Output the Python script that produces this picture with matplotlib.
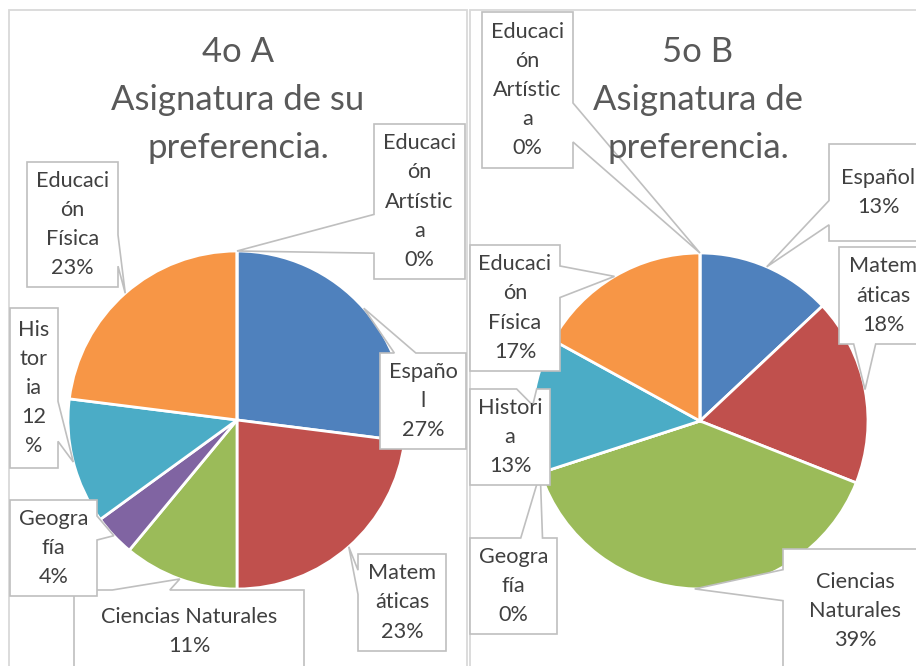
import matplotlib
matplotlib.use('Agg')
import matplotlib.pyplot as plt
from matplotlib.patches import Polygon, Rectangle
import numpy as np

plt.rcParams['font.family'] = ['Lato', 'DejaVu Sans']

# data
subjects = ['Español', 'Matemáticas', 'Ciencias Naturales', 'Geografía',
            'Historia', 'Educación Física', 'Educación Artística']
pct_4A = [27, 23, 11, 4, 12, 23, 0]
pct_5B = [13, 18, 39, 0, 13, 17, 0]
titles = ['4o A\nAsignatura de su\npreferencia.', '5o B\nAsignatura de\npreferencia.']

# label text as wrapped by Excel in each chart ({} -> percentage)
labels_4A = ['Españo\nl\n{}%', 'Matem\náticas\n{}%', 'Ciencias Naturales\n{}%',
             'Geogra\nfía\n{}%', 'His\ntor\nia\n{}\n%', 'Educaci\nón\nFísica\n{}%',
             'Educaci\nón\nArtístic\na\n{}%']
labels_5B = ['Español\n{}%', 'Matem\náticas\n{}%', 'Ciencias\nNaturales\n{}%',
             'Geogra\nfía\n{}%', 'Histori\na\n{}%', 'Educaci\nón\nFísica\n{}%',
             'Educaci\nón\nArtístic\na\n{}%']

colors = ['#4F81BD', '#C0504D', '#9BBB59', '#8064A2', '#4BACC6', '#F79646', '#2C4D75']

W, H = 916, 666

# layout in image pixels (x0, y0, x1, y1)
boxes_4A = [(380, 353, 466, 449), (358, 554, 446, 651), (74, 590, 304, 673),
            (10, 500, 97, 596), (10, 308, 58, 468), (27, 162, 118, 287),
            (374, 124, 465, 279)]
boxes_5B = [(829, 144, 927, 241), (839, 247, 927, 344), (783, 549, 927, 673),
            (470, 538, 557, 634), (470, 389, 550, 485), (470, 245, 560, 371),
            (482, 12, 573, 168)]

charts = [
    dict(vals=pct_4A, labels=labels_4A, boxes=boxes_4A, title=titles[0],
         frame=(9, 10, 467, 700), center=(237, 420), r=169, tx=238),
    dict(vals=pct_5B, labels=labels_5B, boxes=boxes_5B, title=titles[1],
         frame=(470, 10, 960, 700), center=(700, 421), r=168, tx=698),
]

fig = plt.figure(figsize=(W / 100, H / 100), dpi=100)
ax = fig.add_axes([0, 0, 1, 1])


def fy(y):
    return H - y


def callout(box, tip, text):
    x0, y0, x1, y1 = box
    w, h = x1 - x0, y1 - y0
    hc, vc = (x0 + x1) / 2, (y0 + y1) / 2
    dx, dy = tip[0] - hc, tip[1] - vc
    dq = dx * h / w
    dz = abs(dy) - abs(dq)
    g1, g2 = (7, 10) if dx > 0 else (2, 5)
    xa, xb = x0 + w * g1 / 12, x0 + w * g2 / 12
    g1, g2 = (7, 10) if dy > 0 else (2, 5)
    ya, yb = y0 + h * g1 / 12, y0 + h * g2 / 12
    if dz > 0 and dy < 0:
        pts = [(x0, y0), (xa, y0), tip, (xb, y0), (x1, y0), (x1, y1), (x0, y1)]
    elif dz > 0:
        pts = [(x0, y0), (x1, y0), (x1, y1), (xb, y1), tip, (xa, y1), (x0, y1)]
    elif dx > 0:
        pts = [(x0, y0), (x1, y0), (x1, ya), tip, (x1, yb), (x1, y1), (x0, y1)]
    else:
        pts = [(x0, y0), (x1, y0), (x1, y1), (x0, y1), (x0, yb), tip, (x0, ya)]
    pts = [(px, fy(py)) for px, py in pts]
    ax.add_patch(Polygon(pts, closed=True, facecolor='white', edgecolor='#BFBFBF',
                         linewidth=1.2, zorder=5, clip_on=False))
    ax.text(hc, fy(vc), text, ha='center', va='center', color='#404040',
            fontsize=15.6, linespacing=1.57, zorder=6)


for ch in charts:
    fx0, fy0, fx1, fy1 = ch['frame']
    ax.add_patch(Rectangle((fx0, fy(fy1)), fx1 - fx0, fy1 - fy0, facecolor='white',
                           edgecolor='#D9D9D9', linewidth=1.3, zorder=1, clip_on=False))
    cx, cy = ch['center']
    r = ch['r']
    vals = ch['vals']
    ax.pie(vals, colors=colors, startangle=90, counterclock=False,
           center=(cx, fy(cy)), radius=r,
           wedgeprops=dict(edgecolor='white', linewidth=2, zorder=2))
    total = float(sum(vals))
    cum = np.cumsum([0] + list(vals))[:-1]
    for v, c0, lab, box in zip(vals, cum, ch['labels'], ch['boxes']):
        ang = np.deg2rad(360 * (c0 + v / 2) / total)
        tip = (cx + r * np.sin(ang), cy - r * np.cos(ang))
        callout(box, tip, lab.format(int(round(100 * v / total))))
    ax.text(ch['tx'], fy(100), ch['title'], ha='center', va='center', color='#595959',
            fontsize=24.9, linespacing=1.6, zorder=10)

ax.set_xlim(0, W)
ax.set_ylim(0, H)
ax.set_aspect('auto')
ax.axis('off')

fig.savefig('out.png', dpi=100)
